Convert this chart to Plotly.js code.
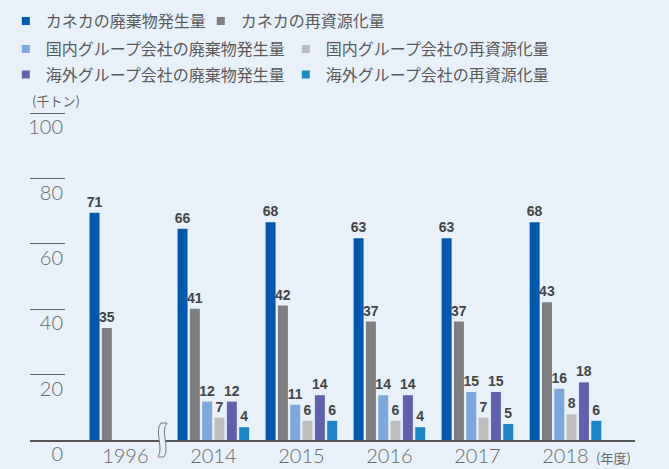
<!DOCTYPE html>
<html>
<head>
<meta charset="utf-8">
<script src="https://cdn.plot.ly/plotly-3.0.1.min.js"></script>
<style>
  html, body { margin: 0; padding: 0; background: #e8f1fa; }
  #chart { width: 669px; height: 469px; }
</style>
</head>
<body>
<div id="chart"></div>
<script>
// ---- data ----
const years = ['1996', '2014', '2015', '2016', '2017', '2018'];
const kanekaWaste    = [71, 66, 68, 63, 63, 68];
const kanekaRecycle  = [35, 41, 42, 37, 37, 43];
const domesticWaste  = [null, 12, 11, 14, 15, 16];
const domesticRecycle= [null, 7, 6, 6, 7, 8];
const overseasWaste  = [null, 12, 14, 14, 15, 18];
const overseasRecycle= [null, 4, 6, 4, 5, 6];
const seriesNames = [
  'カネカの廃棄物発生量', 'カネカの再資源化量',
  '国内グループ会社の廃棄物発生量', '国内グループ会社の再資源化量',
  '海外グループ会社の廃棄物発生量', '海外グループ会社の再資源化量'
];
const yTickVals = [0, 20, 40, 60, 80, 100];
const yUnit = '(千トン)';
const xUnit = '(年度)';

const seriesValues = [kanekaWaste, kanekaRecycle, domesticWaste, domesticRecycle, overseasWaste, overseasRecycle];
const colors = ['#0058aa', '#7f7f82', '#7ca8db', '#bdbdc0', '#5f62ab', '#1b86c3'];
const legendIds = ['legend', 'legend', 'legend2', 'legend2', 'legend3', 'legend3'];

const BG = '#e8f1fa';
const numFont = 'Lato, Roboto, sans-serif';
const cjkFont = 'Noto Sans CJK JP, sans-serif';
const labelFont = 'Liberation Sans Narrow, Arial Narrow, Liberation Sans, sans-serif';

// bars (drawn on the bar scale axis y2)
const barTraces = seriesValues.map((vals, i) => ({
  type: 'bar',
  name: seriesNames[i],
  x: years,
  y: vals,
  yaxis: 'y2',
  showlegend: false,
  marker: { color: colors[i], line: { width: 0 } },
  text: vals.map(v => v == null ? '' : String(v)),
  textposition: 'outside',
  constraintext: 'none',
  cliponaxis: false,
  textfont: { family: labelFont, size: 14, color: '#444', weight: 700 },
  hoverinfo: 'skip'
}));

// legend entries (small square keys, no data points)
const legendTraces = seriesNames.map((nm, i) => ({
  type: 'scatter', mode: 'markers',
  name: nm,
  x: [null], y: [null],
  yaxis: 'y2',
  legend: legendIds[i],
  marker: { symbol: 'square', size: 8, color: colors[i] },
  hoverinfo: 'skip'
}));

// holder so the tick axis (y) has its own subplot
const tickAxisHolder = {
  type: 'scatter', mode: 'markers', x: [years[0]], y: [null],
  yaxis: 'y', showlegend: false, hoverinfo: 'skip'
};

const legendCommon = {
  orientation: 'h',
  bgcolor: 'rgba(0,0,0,0)',
  font: { family: cjkFont, size: 16, color: '#5a5a5a' },
  x: -0.04, xanchor: 'left', yanchor: 'middle',
  itemwidth: 30,
  traceorder: 'normal',
  entrywidthmode: 'pixels'
};

const layout = {
  width: 669, height: 469,
  paper_bgcolor: BG, plot_bgcolor: BG,
  margin: { l: 30, r: 34, t: 110, b: 29, autoexpand: false },
  barmode: 'group',
  bargap: 0.16,
  bargroupgap: 0.19,
  showlegend: true,
  legend:  Object.assign({}, legendCommon, { y: (440 - 21) / 330, entrywidth: 150 }),
  legend2: Object.assign({}, legendCommon, { y: (440 - 49) / 330, entrywidth: 235 }),
  legend3: Object.assign({}, legendCommon, { y: (440 - 74.5) / 330, entrywidth: 235 }),
  xaxis: {
    type: 'category',
    categoryorder: 'array', categoryarray: years,
    range: [-1.083, 5.79],
    showline: true, linecolor: '#555', linewidth: 1.5,
    ticks: '', showgrid: false, zeroline: false,
    ticklabelstandoff: -3,
    tickfont: { family: numFont, size: 20, color: '#666', weight: 300 },
    fixedrange: true
  },
  yaxis: {
    range: [0, 101],
    tickvals: yTickVals,
    ticktext: yTickVals.map(String),
    ticks: 'inside', ticklen: 35, tickwidth: 1, tickcolor: '#666',
    ticklabelstandoff: -34,
    ticklabelshift: 14,
    showgrid: false, zeroline: false, showline: false,
    tickfont: { family: numFont, size: 20, color: '#666', weight: 300 },
    fixedrange: true
  },
  yaxis2: {
    overlaying: 'y',
    range: [0, 103.1],
    visible: false,
    fixedrange: true
  },
  shapes: [{
    type: 'path',
    xref: 'paper', yref: 'paper',
    xsizemode: 'pixel', ysizemode: 'pixel',
    xanchor: (163 - 30) / 605, yanchor: 0,
    path: 'M -2 17 C -9 8 1 -8 -5 -17 L 1 -17 C 7 -8 -3 8 4 17 Z',
    fillcolor: BG,
    line: { color: '#777', width: 1 },
    layer: 'above'
  }],
  annotations: [
    {
      text: yUnit, xref: 'paper', yref: 'paper',
      x: 0, xanchor: 'left', y: (440 - 101) / 330, yanchor: 'middle',
      showarrow: false,
      font: { family: cjkFont, size: 13, color: '#666' }
    },
    {
      text: xUnit, xref: 'paper', yref: 'paper',
      x: (594 - 30) / 605, xanchor: 'left', y: -(458 - 440) / 330, yanchor: 'middle',
      showarrow: false,
      font: { family: cjkFont, size: 13, color: '#666' }
    }
  ]
};

Plotly.newPlot('chart', [tickAxisHolder].concat(barTraces, legendTraces), layout,
  { displayModeBar: false, staticPlot: true });
</script>
</body>
</html>
